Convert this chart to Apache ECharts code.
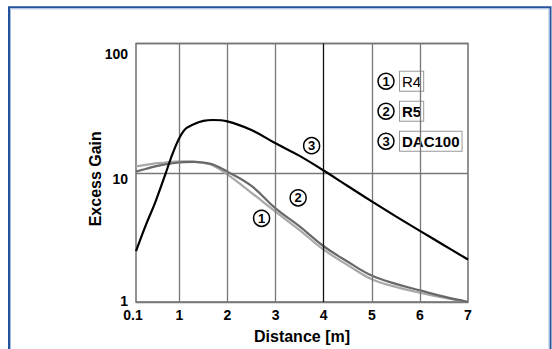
<!DOCTYPE html>
<html><head><meta charset="utf-8">
<script src="https://cdn.jsdelivr.net/npm/echarts@6/dist/echarts.min.js"></script>
<style>html,body{margin:0;padding:0;background:#fff}#c{width:552px;height:349px}</style>
</head><body><div id="c"></div>
<script>
// ---- data ----
const distance = [0.1, 0.3, 0.5, 0.7, 0.9, 1.1, 1.3, 1.5, 1.7, 2.0, 2.5, 3.0, 3.5, 4.0, 4.5, 5.0, 5.5, 6.0, 6.5, 7.0];
const r4     = [11.2, 11.5, 11.8, 12.0, 12.2, 12.25, 12.2, 11.9, 11.4, 9.7, 7.0, 5.0, 3.6, 2.54, 1.93, 1.5, 1.31, 1.18, 1.08, 1.0];
const r5     = [10.2, 10.7, 11.2, 11.6, 11.9, 12.1, 12.15, 12.0, 11.6, 10.2, 7.9, 5.3, 3.85, 2.7, 2.05, 1.6, 1.38, 1.23, 1.1, 1.0];
const dac100 = [2.47, 3.9, 5.9, 9.5, 15.3, 21.3, 23.7, 25.2, 25.6, 25.0, 21.4, 16.9, 13.5, 10.4, 7.9, 6.0, 4.6, 3.55, 2.75, 2.13];
const seriesNames = ['R4', 'R5', 'DAC100'];
const xTicks = [0.1, 1, 2, 3, 4, 5, 6, 7];
const yTicks = [1, 10, 100];
const xGridLines = [1, 2, 3, 4, 5, 6];
// circled-number annotation anchors [distance, gain]
const labelR4 = [2.71, 4.44];
const labelR5 = [3.47, 6.4];
const labelDAC = [3.75, 16.2];

const FONT = '"Liberation Sans", Arial, sans-serif';
const pair = (ys) => distance.map((x, i) => [x, ys[i]]);

function circledPoint(num, coord) {
  return {
    symbol: 'circle', symbolSize: 16, silent: true,
    itemStyle: { color: '#fff', borderColor: '#000', borderWidth: 1.5 },
    label: { show: true, position: 'inside', formatter: String(num), color: '#000',
             fontFamily: FONT, fontWeight: 'bold', fontSize: 13 },
    data: [{ coord: coord }]
  };
}

const chart = echarts.init(document.getElementById('c'), null, { renderer: 'svg' });
chart.setOption({
  animation: false,
  backgroundColor: '#fff',
  textStyle: { fontFamily: FONT },
  graphic: [
    { type: 'rect', silent: true, z: 100, shape: { x: 9, y: 7.3, width: 541.5, height: 360 },
      style: { fill: 'none', stroke: '#24539e', lineWidth: 2 } },
    { type: 'rect', silent: true, z: 100, shape: { x: 10.5, y: 8.8, width: 538.5, height: 360 },
      style: { fill: 'none', stroke: '#a9bedd', lineWidth: 1 } }
  ],
  grid: { left: 136, right: 84, top: 43.5, bottom: 44.5, show: true,
          borderColor: '#6e6e6e', borderWidth: 1.5, backgroundColor: 'transparent' },
  legend: {
    data: seriesNames, orient: 'vertical', left: 373, top: 70.7, itemGap: 9, padding: 0,
    icon: 'none', itemWidth: 0, itemHeight: 0, selectedMode: false,
    formatter: function (name) {
      const i = seriesNames.indexOf(name);
      const st = name === 'R4' ? 'n' : 'b';
      return '{c|' + (i + 1) + '}{s|}{' + st + '|' + name + '}';
    },
    textStyle: {
      fontFamily: FONT,
      rich: {
        c: { width: 16, height: 16, lineHeight: 16, borderRadius: 8, borderColor: '#000', borderWidth: 1.5,
             align: 'center', fontSize: 13, fontWeight: 'bold', color: '#000', fontFamily: FONT },
        s: { width: 6 },
        n: { fontSize: 15, lineHeight: 18, padding: [2, 2, 2, 2], borderColor: '#999', borderWidth: 1,
             backgroundColor: '#fff', color: '#000', fontFamily: FONT },
        b: { fontSize: 15, lineHeight: 18, padding: [2, 2, 2, 2], borderColor: '#999', borderWidth: 1,
             backgroundColor: '#fff', color: '#000', fontWeight: 'bold', fontFamily: FONT }
      }
    }
  },
  xAxis: {
    type: 'value', min: 0.1, max: 7,
    name: 'Distance [m]', nameLocation: 'middle', nameGap: 26, nameMoveOverlap: false,
    nameTextStyle: { fontFamily: FONT, fontWeight: 'bold', fontSize: 16, color: '#000' },
    axisLine: { show: false }, axisTick: { show: false, customValues: xTicks },
    splitLine: { show: false },
    axisLabel: {
      customValues: xTicks, margin: 6, color: '#000', fontFamily: FONT, fontWeight: 'bold', fontSize: 14,
      formatter: function (v) { return Math.abs(v - 0.1) < 1e-6 ? '{z|0.1}' : String(Math.round(v)); },
      rich: { z: { padding: [0, 6, 0, 0], fontFamily: FONT, fontWeight: 'bold', fontSize: 14, color: '#000' } }
    }
  },
  yAxis: {
    type: 'log', logBase: 10, min: 1, max: 100,
    name: 'Excess Gain', nameLocation: 'middle', nameGap: 33, nameMoveOverlap: false,
    nameTextStyle: { fontFamily: FONT, fontWeight: 'bold', fontSize: 16, color: '#000', padding: [0, 12, 0, 0] },
    axisLine: { show: false }, axisTick: { show: false }, minorTick: { show: false },
    splitLine: { show: true, lineStyle: { color: '#777', width: 1.3 } },
    axisLabel: {
      margin: 8, color: '#000', fontFamily: FONT, fontWeight: 'bold', fontSize: 14,
      formatter: function (v) {
        if (Math.abs(v - 100) < 1e-6) return '{h|100}';
        if (Math.abs(v - 10) < 1e-6) return '{t|10}';
        return '{o|1}';
      },
      rich: {
        h: { padding: [20, 0, 0, 0], fontFamily: FONT, fontWeight: 'bold', fontSize: 14, color: '#000' },
        t: { padding: [13, 0, 0, 0], fontFamily: FONT, fontWeight: 'bold', fontSize: 14, color: '#000' },
        o: { padding: [0, 0, 3, 0], fontFamily: FONT, fontWeight: 'bold', fontSize: 14, color: '#000' }
      }
    }
  },
  series: [
    { name: 'grid', type: 'line', data: [], z: 1, silent: true,
      markLine: { silent: true, symbol: 'none', label: { show: false }, animation: false,
        data: xGridLines.map(x => ({ xAxis: x, lineStyle: { type: 'solid', color: x === 4 ? '#111' : '#777', width: 1.3 } })) } },
    { name: 'R4', type: 'line', data: pair(r4), smooth: 0.4, showSymbol: false, z: 3,
      lineStyle: { color: '#a8a8a8', width: 2.2 }, itemStyle: { color: '#a8a8a8' },
      markPoint: circledPoint(1, labelR4) },
    { name: 'R5', type: 'line', data: pair(r5), smooth: 0.4, showSymbol: false, z: 4,
      lineStyle: { color: '#686868', width: 2.2 }, itemStyle: { color: '#686868' },
      markPoint: circledPoint(2, labelR5) },
    { name: 'DAC100', type: 'line', data: pair(dac100), smooth: 0.4, showSymbol: false, z: 5,
      lineStyle: { color: '#000', width: 2.2 }, itemStyle: { color: '#000' },
      markPoint: circledPoint(3, labelDAC) }
  ]
});
</script></body></html>
